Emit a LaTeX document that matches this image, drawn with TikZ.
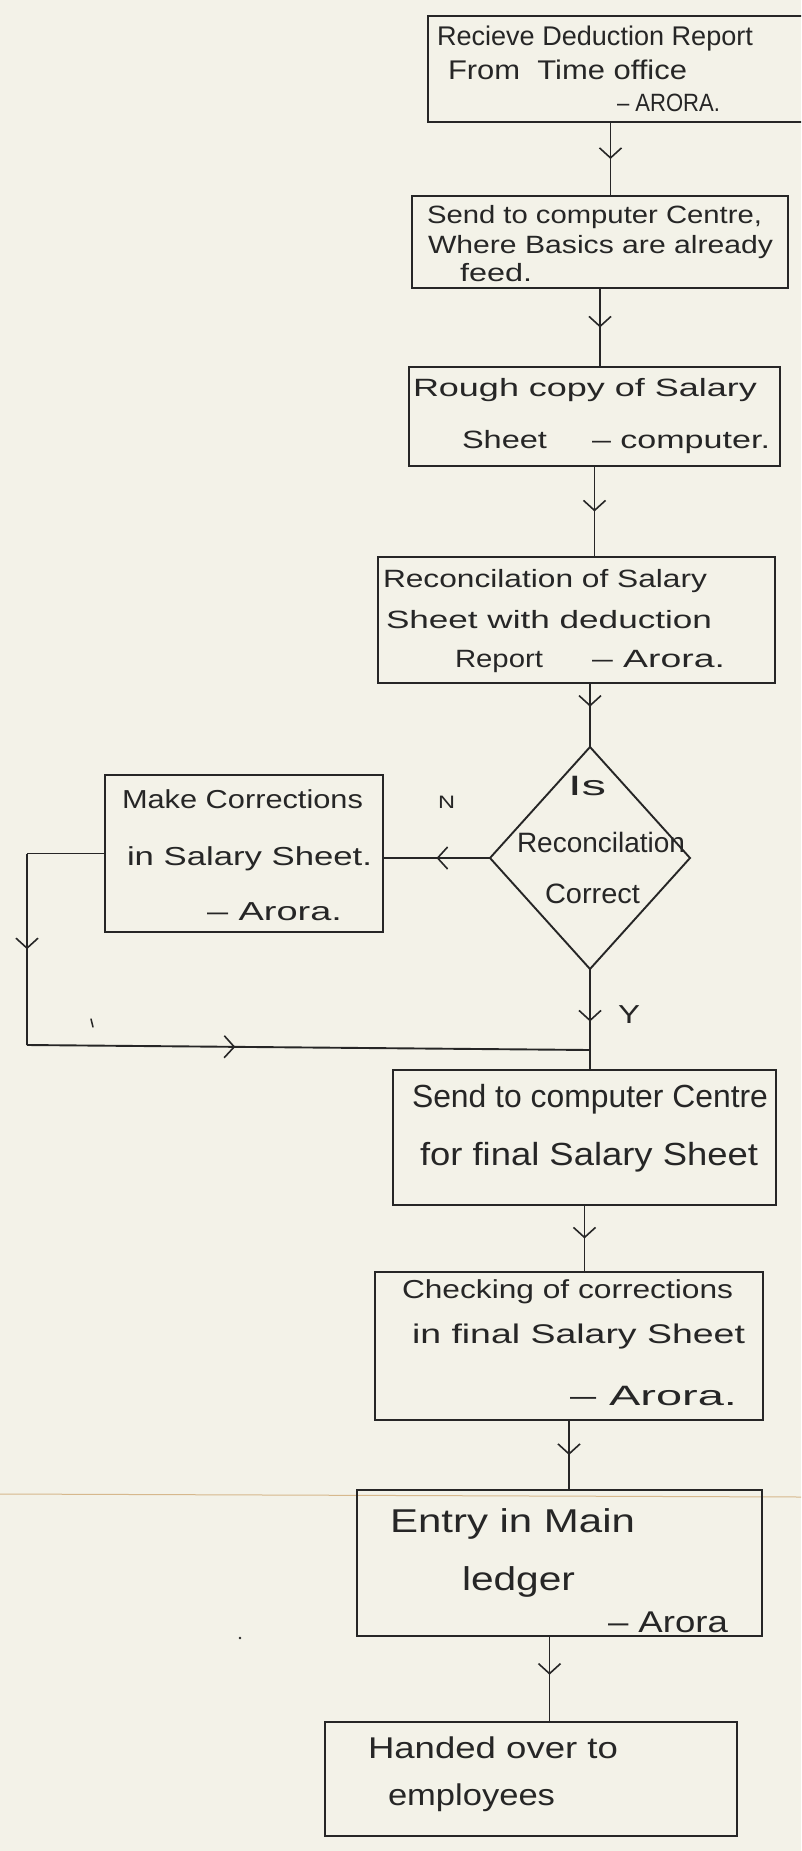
\documentclass[tikz,border=0pt]{standalone}
\usepackage{fontspec}
\setmainfont{Liberation Sans}
\usepackage{graphicx}
\usetikzlibrary{shapes.geometric,arrows.meta,decorations.markings}
\definecolor{paper}{RGB}{243,242,232}
\definecolor{ink}{RGB}{38,38,38}
\definecolor{fold}{RGB}{214,184,140}
\tikzset{
  box/.style={draw=ink, line width=1.9pt, rectangle, inner sep=0pt, outer sep=0pt, anchor=north west},
  decision/.style={draw=ink, line width=1.9pt, diamond, inner sep=0pt, outer sep=0pt},
  conn/.style={draw=ink, line width=1.9pt},
  txt/.style={anchor=base west, inner sep=0pt, outer sep=0pt, text=ink},
  marrow/.style={postaction={decorate,decoration={markings,mark=at position #1 with {\arrow[ink]{Straight Barb[length=10pt,width=22pt,line width=1.6pt]}}}}}
}
\newcommand\hw[6]{\node[txt] (#1) at (#2,#3) {\fontsize{#5}{#5}\selectfont\resizebox{#4pt}{\height}{#6}};}
\begin{document}
\begin{tikzpicture}[x=1pt,y=-1pt]
\useasboundingbox (0,0) rectangle (801,1851);
\fill[paper] (0,0) rectangle (801,1851);
\clip (0,0) rectangle (801,1851);
\draw[fold, line width=1pt] (0,1494) -- (801,1497);

% boxes
\node[box, minimum width=375pt, minimum height=106pt] (b1) at (428,16) {};
\node[box, minimum width=376pt, minimum height=92pt] (b2) at (412,196) {};
\node[box, minimum width=371pt, minimum height=99pt] (b3) at (409,367) {};
\node[box, minimum width=397pt, minimum height=126pt] (b4) at (378,557) {};
\node[decision, minimum width=200pt, minimum height=222pt] (d) at (590,858) {};
\node[box, minimum width=278pt, minimum height=157pt] (b5) at (105,775) {};
\node[box, minimum width=383pt, minimum height=135pt] (b6) at (393,1070) {};
\node[box, minimum width=388pt, minimum height=148pt] (b7) at (375,1272) {};
\node[box, minimum width=405pt, minimum height=146pt] (b8) at (357,1490) {};
\node[box, minimum width=412pt, minimum height=114pt] (b9) at (325,1722) {};

% connectors
\draw[conn, marrow=0.5] ([xshift=-5pt]b1.south) -- ([xshift=-5pt]b1.south |- b2.north);
\draw[conn, marrow=0.5] (b2.south) -- (b2.south |- b3.north);
\draw[conn, marrow=0.5] (b3.south) -- (b3.south |- b4.north);
\draw[conn, marrow=0.37] (d.north |- b4.south) -- (d.north);
\draw[conn, marrow=0.5] (d.west) -- (d.west -| b5.east);
\draw[conn, marrow=0.52] (d.south) -- (d.south |- b6.north);
\coordinate (l2) at (27,1045);
\coordinate (j) at (590,1050);
\draw[conn] (b5.west) -- (b5.west -| l2);
\draw[conn, marrow=0.5] (b5.west -| l2) -- (l2);
\draw[conn, marrow=0.37] (l2) -- (j);
\draw[conn, marrow=0.5] (b6.south) -- (b6.south |- b7.north);
\draw[conn, marrow=0.5] (b7.south) -- (b7.south |- b8.north);
\draw[conn, marrow=0.45] ([xshift=-10pt]b8.south) -- ([xshift=-10pt]b8.south |- b9.north);

% texts
\hw{t1a}{437}{46}{316}{27}{Recieve Deduction Report}
\hw{t1b}{448}{80}{239}{27}{From\ \ Time office}
\hw{t1c}{617}{112}{103}{25}{\textendash\ ARORA.}
\hw{t2a}{427}{224}{335}{25}{Send to computer Centre,}
\hw{t2b}{428}{254}{345}{25}{Where Basics are already}
\hw{t2c}{460}{282}{72}{25}{feed.}
\hw{t3a}{413}{396}{344}{25}{Rough copy of Salary}
\hw{t3b}{462}{448}{85}{25}{Sheet}
\hw{t3c}{592}{448}{178}{25}{\textendash\ computer.}
\hw{t4a}{383}{587}{324}{25}{Reconcilation of Salary}
\hw{t4b}{386}{628}{326}{25}{Sheet with deduction}
\hw{t4c}{455}{667}{88}{25}{Report}
\hw{t4d}{592}{667}{133}{25}{\textendash\ Arora.}
\hw{td1}{568}{795}{38}{28}{Is}
\hw{td2}{517}{852}{168}{28}{Reconcilation}
\hw{td3}{545}{903}{95}{28}{Correct}
\hw{t5a}{122}{808}{241}{26}{Make Corrections}
\hw{t5b}{127}{865}{245}{26}{in Salary Sheet.}
\hw{t5c}{207}{920}{135}{26}{\textendash\ Arora.}
\hw{tn}{438}{808}{17}{18}{N}
\hw{ty}{618}{1023}{22}{26}{Y}
\hw{t6a}{412}{1107}{356}{32}{Send to computer Centre}
\hw{t6b}{420}{1165}{338}{32}{for final Salary Sheet}
\hw{t7a}{402}{1298}{331}{26}{Checking of corrections}
\hw{t7b}{412}{1343}{333}{27}{in final Salary Sheet}
\hw{t7c}{570}{1405}{167}{28}{\textendash\ Arora.}
\hw{t8a}{390}{1532}{245}{33}{Entry in Main}
\hw{t8b}{462}{1590}{113}{33}{ledger}
\hw{t8c}{608}{1632}{120}{30}{\textendash\ Arora}
\hw{t9a}{368}{1758}{250}{30}{Handed over to}
\hw{t9b}{388}{1805}{167}{30}{employees}

% stray pen marks
\draw[ink, line width=1.5pt, line cap=round] (91,1019) -- (93,1027);
\fill[ink] (240,1638) circle (1.3pt);
\end{tikzpicture}
\end{document}
